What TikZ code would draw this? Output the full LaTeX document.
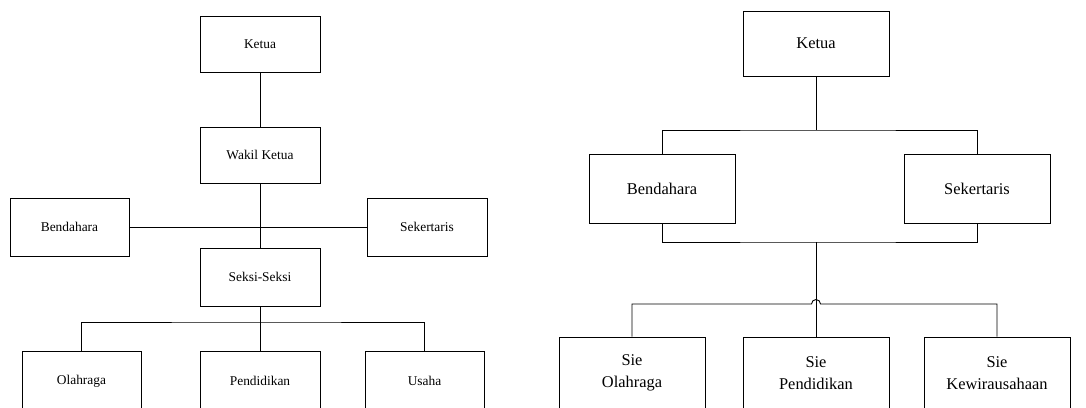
\documentclass[tikz,border=0pt]{standalone}
\usepackage{fontspec}
\setmainfont{Liberation Serif}
\begin{document}
\begin{tikzpicture}[x=1pt,y=-1pt,line width=0.9pt,
  lbox/.style={draw,rectangle,inner sep=0pt,align=center,font=\fontsize{13.4}{16}\selectfont},
  rbox/.style={draw,rectangle,inner sep=0pt,align=center,font=\fontsize{16.4}{21.5}\selectfont}]
\useasboundingbox (0,0) rectangle (1086,407);
\clip (0,0) rectangle (1086,407);
\fill[white] (0,0) rectangle (1086,407);
% left chart
\node[lbox,minimum width=120pt,minimum height=56pt] (k1) at (260,44) {Ketua};
\node[lbox,minimum width=120pt,minimum height=56pt] (w1) at (260,155) {Wakil Ketua};
\node[lbox,minimum width=119pt,minimum height=58pt] (b1) at (69.5,227) {Bendahara};
\node[lbox,minimum width=120pt,minimum height=58pt] (s1) at (427,227) {Sekertaris};
\node[lbox,minimum width=120pt,minimum height=58pt] (ss1) at (260,277) {Seksi-Seksi};
\node[lbox,minimum width=119pt,minimum height=60pt] (o1) at (81.5,381) {Olahraga};
\node[lbox,minimum width=120pt,minimum height=60pt] (p1) at (260,381) {Pendidikan};
\node[lbox,minimum width=119pt,minimum height=60pt] (u1) at (424.5,381) {Usaha};
\coordinate (c1) at (260,322);
\draw (k1.south) -- (w1.north);
\draw (w1.south) -- (ss1.north);
\draw (b1.east) -- (s1.west);
\draw (ss1.south) -- (p1.north);
\draw (o1.north) |- (c1) -| (u1.north);
% right chart
\node[rbox,minimum width=146pt,minimum height=65pt] (k2) at (816,43.5) {Ketua};
\node[rbox,minimum width=146pt,minimum height=69pt] (b2) at (662,188.5) {Bendahara};
\node[rbox,minimum width=146pt,minimum height=69pt] (s2) at (977,188.5) {Sekertaris};
\node[rbox,minimum width=146pt,minimum height=72pt] (o2) at (632,373) {Sie\\Olahraga};
\node[rbox,minimum width=146pt,minimum height=72pt] (p2) at (816,373) {Sie\\Pendidikan};
\node[rbox,minimum width=146pt,minimum height=72pt] (w2) at (997,373) {Sie\\Kewirausahaan};
\coordinate (j1) at (816,130);
\coordinate (j2) at (816,242);
\coordinate (j3) at (816,304);
\draw (k2.south) -- (j1);
\draw (b2.north) |- (j1) -| (s2.north);
\draw (b2.south) |- (j2) -| (s2.south);
\draw (j2) -- (p2.north);
\draw (o2.north) |- ([xshift=-4.5pt]j3) arc[start angle=180,end angle=0,radius=4.5pt] -| (w2.north);
\end{tikzpicture}
\end{document}
